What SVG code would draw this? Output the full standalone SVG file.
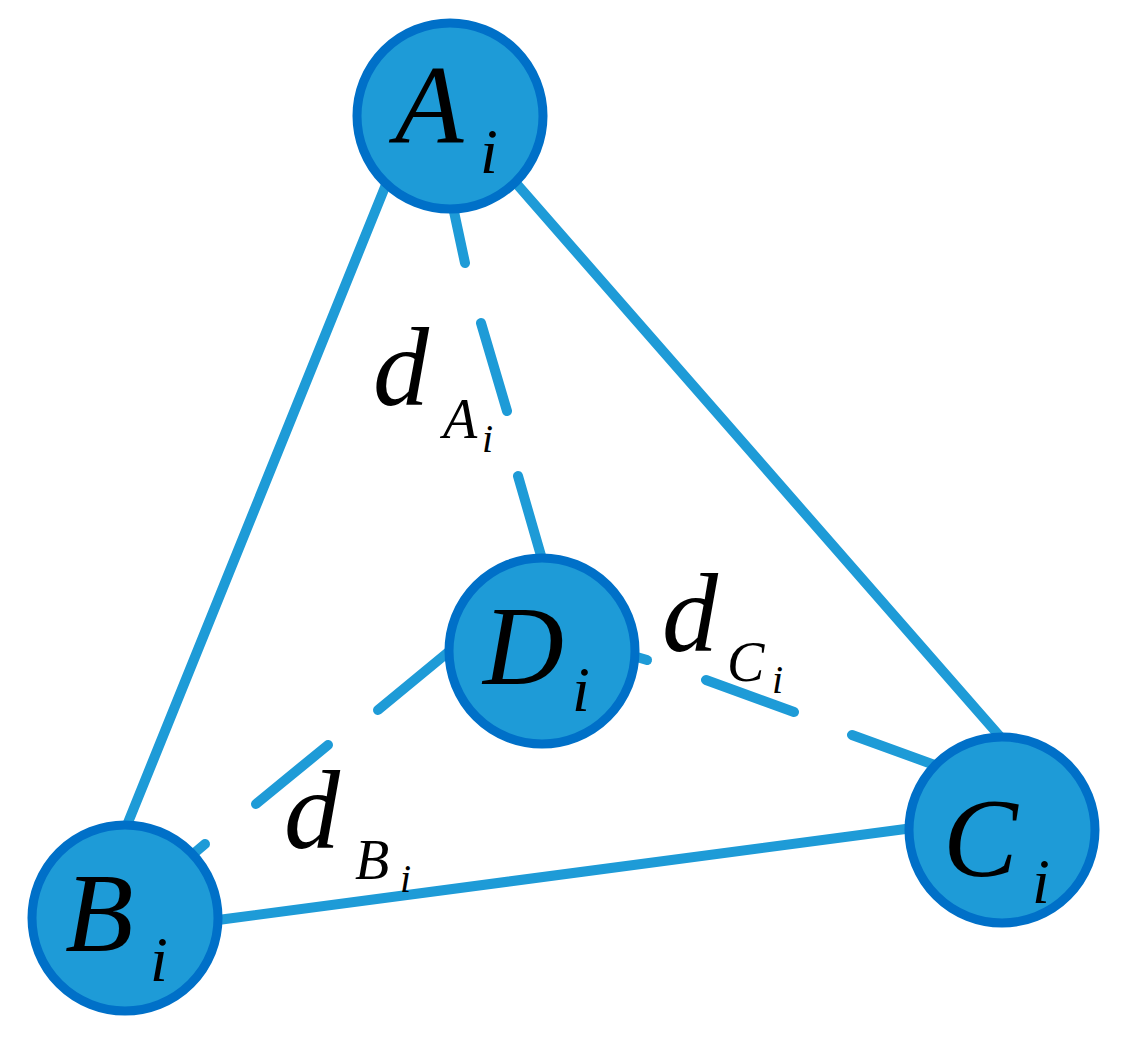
<svg xmlns="http://www.w3.org/2000/svg" width="1126" height="1043" viewBox="0 0 1126 1043">
<style>
.n{fill:#1E9BD7;stroke:#0070C8;stroke-width:9}
.e{stroke:#1E9BD7;stroke-width:10;stroke-linecap:round;fill:none}
text{font-family:"Liberation Serif",serif;font-style:italic;fill:#000}
.b{font-size:112px}.s{font-size:64px}.t{font-size:56px}.u{font-size:40px}
</style>
<rect width="1126" height="1043" fill="#fff"/>
<g id="connectors">
<line class="e" x1="387" y1="182" x2="125" y2="830"/>
<line class="e" x1="515" y1="182" x2="1003" y2="740"/>
<line class="e" x1="218" y1="920" x2="913" y2="828"/>
<line class="e" x1="453" y1="207" x2="465" y2="263"/>
<line class="e" x1="481" y1="323" x2="507" y2="411"/>
<line class="e" x1="518" y1="476" x2="544" y2="566"/>
<line class="e" x1="452" y1="649" x2="378" y2="710"/>
<line class="e" x1="328" y1="745" x2="256" y2="804"/>
<line class="e" x1="205" y1="844" x2="192" y2="855"/>
<line class="e" x1="630" y1="655" x2="647" y2="660"/>
<line class="e" x1="706" y1="680" x2="794" y2="712"/>
<line class="e" x1="852" y1="735" x2="940" y2="767"/>
</g>
<g id="A"><circle class="n" cx="450" cy="116" r="93"/><text class="b" x="395" y="143">A</text><text class="s" x="480" y="173">i</text></g>
<g id="D"><circle class="n" cx="542" cy="651" r="93"/><text class="b" x="483" y="684">D</text><text class="s" x="572" y="711">i</text></g>
<g id="B"><circle class="n" cx="125" cy="918" r="93"/><text class="b" x="65" y="951">B</text><text class="s" x="150" y="981">i</text></g>
<g id="C"><circle class="n" cx="1002" cy="830" r="93"/><text class="b" x="943" y="876">C</text><text class="s" x="1032" y="903">i</text></g>
<g id="labels">
<text class="b" x="373" y="405">d</text><text class="t" x="443" y="438">A</text><text class="u" x="482" y="452">i</text>
<text class="b" x="662" y="651">d</text><text class="t" x="727" y="681">C</text><text class="u" x="772" y="693">i</text>
<text class="b" x="284" y="848">d</text><text class="t" x="355" y="879">B</text><text class="u" x="400" y="892">i</text>
</g>
</svg>
